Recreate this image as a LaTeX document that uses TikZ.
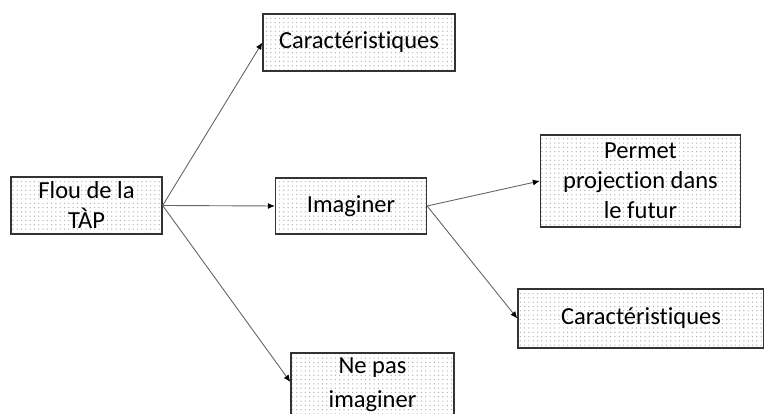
\documentclass[tikz,border=0pt]{standalone}
\usepackage{fontspec}
\setmainfont{Carlito}[Ligatures=NoCommon]
\usepackage{tikz}
\usetikzlibrary{positioning,arrows.meta,patterns.meta}

\begin{document}
\begin{tikzpicture}[
  x=1pt,y=1pt,
  every node/.style={font=\fontsize{24.5}{30}\selectfont},
  box/.style={draw=black!80,line width=1.3pt,align=center,inner sep=2pt,
              pattern={Dots[distance=4.3pt,radius=0.7pt]},pattern color=black!30},
  arr/.style={-{Latex[length=7pt,width=6pt,black]},draw=black!60,line width=0.9pt}
]
  \useasboundingbox (0,0) rectangle (764,414);

  \node[box,minimum width=151pt,minimum height=57pt] (flou)   at (86.5,208.5) {Flou de la\\TÀP};
  \node[box,minimum width=192pt,minimum height=57pt] (carA)   at (359,371.5)  {Caractéristiques};
  \node[box,minimum width=151pt,minimum height=56pt] (imag)   at (351,208)    {Imaginer};
  \node[box,minimum width=163pt,minimum height=64pt,
        font=\fontsize{24.5}{34}\selectfont]         (nepas)  at (372.5,29)   {Ne pas\\imaginer};
  \node[box,minimum width=200pt,minimum height=92pt] (permet) at (640.5,233)  {Permet\\projection dans\\le futur};
  \node[box,minimum width=246pt,minimum height=59pt] (carB)   at (641,95.5)   {Caractéristiques};

  \draw[arr] (flou.east) -- (carA.west);
  \draw[arr] (flou.east) -- (imag.west);
  \draw[arr] (flou.east) -- ([yshift=3pt]nepas.west);
  \draw[arr] (imag.east) -- (permet.west);
  \draw[arr] (imag.east) -- (carB.west);
\end{tikzpicture}
\end{document}
